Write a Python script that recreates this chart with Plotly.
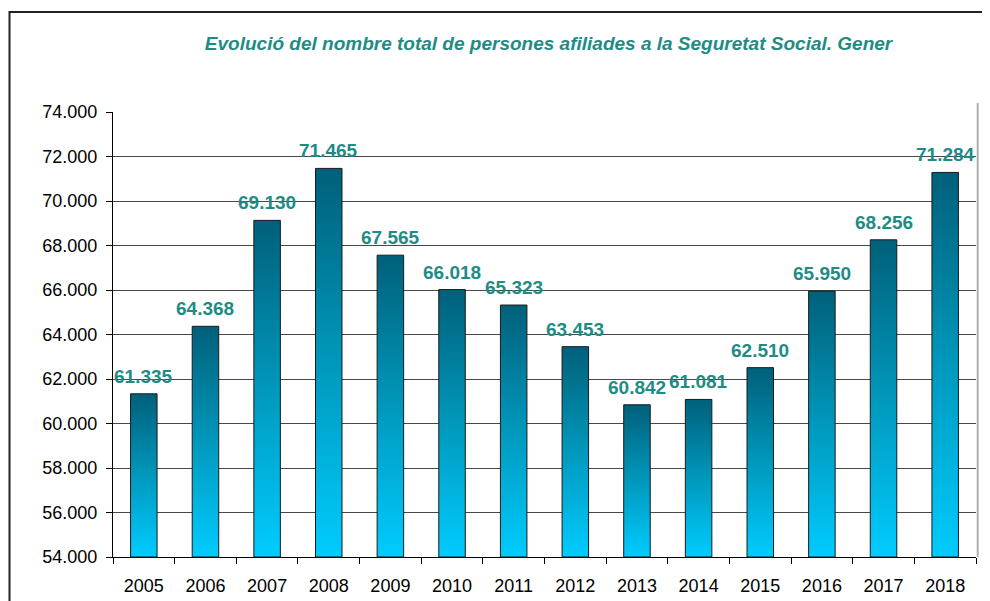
import plotly.graph_objects as go

years = ['2005', '2006', '2007', '2008', '2009', '2010', '2011',
         '2012', '2013', '2014', '2015', '2016', '2017', '2018']
afiliats = [61335, 64368, 69130, 71465, 67565, 66018, 65323,
            63453, 60842, 61081, 62510, 65950, 68256, 71284]

y_min, y_max = 54000, 74000
bar_w = 0.43
teal = '#1E8C84'

fig = go.Figure()

# each bar as a filled shape so it can take a vertical gradient
for i, v in enumerate(afiliats):
    x0, x1 = i - bar_w / 2, i + bar_w / 2
    fig.add_trace(go.Scatter(
        x=[x0, x0, x1, x1, x0],
        y=[y_min, v, v, y_min, y_min],
        mode='lines',
        fill='toself',
        fillgradient=dict(type='vertical', start=y_min, stop=v,
                          colorscale=[[0, '#00CCFF'], [0.5, '#0098BC'], [1, '#00607A']]),
        line=dict(color='#1a1a1a', width=1),
        hoverinfo='skip',
        showlegend=False,
    ))

# value labels above the bars
labels = [dict(x=i, y=v, text=f'{v:,}'.replace(',', '.'),
               xref='x', yref='y', yanchor='bottom', yshift=5,
               showarrow=False,
               font=dict(family='Liberation Sans, Arial', size=19, color=teal, weight='bold'))
          for i, v in enumerate(afiliats)]

# page body adds ~8px offset, margins compensate
fig.update_layout(
    width=990, height=601,
    margin=dict(l=105, r=22, t=104, b=52),
    paper_bgcolor='white',
    plot_bgcolor='white',
    separators=',.',
    font=dict(family='Liberation Sans, Arial', size=18, color='black'),
    title=dict(
        text='<i><b>Evolució del nombre total de persones afiliades a la Seguretat Social. Gener</b></i>',
        x=0.546, xanchor='center', y=0.942, yanchor='middle',
        font=dict(size=19, color=teal),
    ),
    annotations=labels,
    xaxis=dict(
        range=[-0.5, 13.5],
        tickvals=list(range(len(years))),
        ticktext=years,
        ticks='',
        ticklabelstandoff=12,
        showgrid=False,
        zeroline=False,
        showline=True, linecolor='black', linewidth=1,
        minor=dict(tick0=-0.5, dtick=1, ticks='outside', ticklen=6,
                   tickcolor='black', showgrid=False),
        tickfont=dict(size=18),
    ),
    yaxis=dict(
        range=[y_min, y_max],
        dtick=2000,
        tickformat=',.0f',
        showgrid=True, gridcolor='#484848', gridwidth=1,
        zeroline=False,
        showline=True, linecolor='black', linewidth=1,
        ticks='outside', ticklen=6, tickcolor='black',
        ticklabelstandoff=5,
        tickfont=dict(size=18),
    ),
    shapes=[
        # outer chart frame
        dict(type='rect', xref='paper', yref='paper',
             x0=(9.5 - 113) / 863, x1=1.2, y0=-0.3, y1=1 + (112 - 12) / 445,
             line=dict(color='#222222', width=2), layer='below'),
        # right border of plot area
        dict(type='line', xref='paper', yref='paper', x0=1.002, x1=1.002, y0=0, y1=1.02,
             line=dict(color='#b0b0b0', width=2)),
    ],
)

fig.write_html('out.html')
